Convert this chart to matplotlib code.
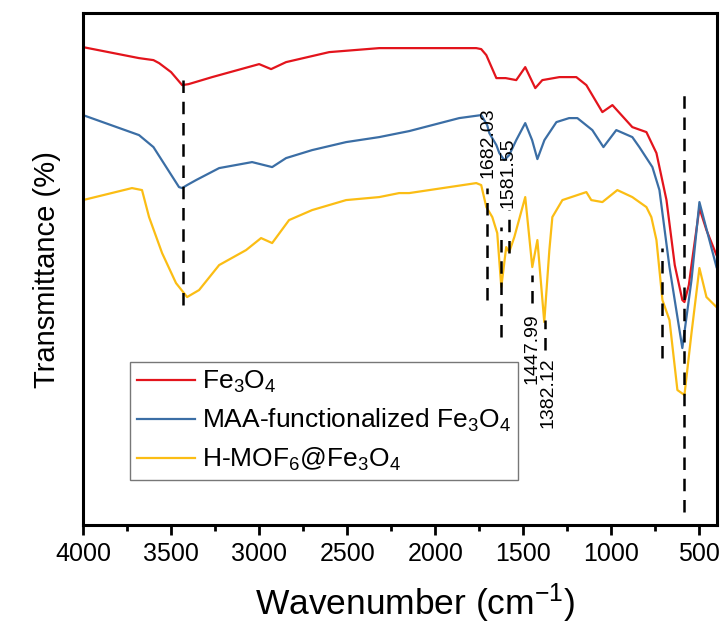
import numpy as np
import matplotlib
matplotlib.use("Agg")
import matplotlib.pyplot as plt
from matplotlib.ticker import MultipleLocator

plt.rcParams['font.family'] = ['Liberation Sans', 'DejaVu Sans']
plt.rcParams['mathtext.fontset'] = 'custom'
plt.rcParams['mathtext.rm'] = 'Liberation Sans'
plt.rcParams['mathtext.default'] = 'regular'

# FTIR spectra, wavenumber (cm-1) and transmittance (arbitrary, stacked)
fe3o4_w = [4000, 4000, 3682, 3600, 3568, 3500, 3437, 3400, 3267, 3000, 2932, 2847, 2602, 2318,
           2148, 1767, 1739, 1710, 1653, 1600, 1540, 1489, 1432, 1392, 1295, 1199, 1142,
           1051, 994, 881, 801, 744, 687, 640, 597, 585, 560, 545, 500, 460, 403]
fe3o4_t = [0, 478, 467, 465, 462, 453, 440, 441, 448, 461, 456, 463, 473, 477,
           477, 477, 476, 470, 447, 447, 445, 458, 437, 445, 448, 448, 440,
           413, 420, 398, 393, 372, 325, 260, 225, 223, 240, 260, 317, 295, 270]

maa_w = [4000, 4000, 3682, 3600, 3455, 3437, 3409, 3358, 3227, 3040, 2926, 2847, 2699, 2506,
         2318, 2205, 2148, 1864, 1739, 1705, 1693, 1653, 1636, 1608, 1580, 1540, 1489,
         1450, 1420, 1380, 1312, 1240, 1193, 1108, 1045, 972, 881, 841, 767, 727, 670,
         597, 545, 500, 403]
maa_t = [0, 410, 390, 378, 338, 337, 340, 345, 357, 363, 358, 367, 375, 383,
         388, 392, 394, 407, 410, 400, 392, 380, 372, 365, 370, 385, 402,
         385, 366, 385, 403, 407, 407, 395, 378, 395, 388, 378, 358, 335, 258,
         177, 245, 323, 258]

mof_w = [4000, 4000, 3722, 3665, 3625, 3551, 3472, 3409, 3341, 3227, 3074, 2989, 2926,
         2830, 2699, 2506, 2318, 2205, 2148, 1767, 1739, 1710, 1676, 1648, 1625, 1597,
         1580, 1551, 1489, 1449, 1420, 1381, 1352, 1335, 1278, 1142, 1114, 1051, 966,
         881, 801, 773, 744, 710, 670, 625, 585, 545, 500, 460, 403]
mof_t = [0, 325, 337, 335, 308, 272, 242, 228, 235, 260, 275, 287, 282,
         305, 315, 325, 328, 332, 332, 342, 340, 318, 308, 292, 238, 278,
         273, 288, 328, 258, 285, 203, 275, 308, 325, 333, 325, 323, 335,
         328, 318, 308, 285, 225, 205, 135, 130, 192, 257, 228, 218]

labels = ['Fe$_3$O$_4$', 'MAA-functionalized Fe$_3$O$_4$', 'H-MOF$_6$@Fe$_3$O$_4$']
colors = ['#e3141c', '#3b6ea5', '#fbbd14']

# dashed marker lines: position and vertical extent
mark_w = [3430, 1705, 1625, 1580, 1449, 1378, 710, 585]
mark_top = [450, 337, 298, 315, 250, 205, 277, 435]
mark_bot = [220, 225, 188, 272, 222, 175, 167, 13]

# peak labels
peak_text = ['1682.03', '1581.55', '1447.99', '1382.12']
peak_x = [1699, 1585, 1452, 1360]
peak_y = [347, 317, 212, 168]
peak_va = ['bottom', 'bottom', 'top', 'top']

fig = plt.figure(figsize=(7.25, 6.25), dpi=100)
ax = fig.add_axes([0.1145, 0.16, 0.8745, 0.819])

for w, t, lab, c in zip([fe3o4_w, maa_w, mof_w], [fe3o4_t, maa_t, mof_t], labels, colors):
    ax.plot(w, t, color=c, lw=1.6, label=lab)

for w, t0, t1 in zip(mark_w, mark_top, mark_bot):
    ax.plot([w, w], [t1, t0], color='black', lw=1.8, dashes=(5, 3.5))

for s, x, y, va in zip(peak_text, peak_x, peak_y, peak_va):
    ax.text(x, y, s, rotation=90, ha='center', va=va, fontsize=14)

ax.set_xlim(4000, 400)
ax.set_ylim(0, 512)
ax.xaxis.set_major_locator(MultipleLocator(500))
ax.xaxis.set_minor_locator(MultipleLocator(250))
ax.set_yticks([])
ax.tick_params(axis='x', which='major', direction='out', length=7, width=2, labelsize=18, pad=5)
ax.tick_params(axis='x', which='minor', direction='out', length=4, width=2)
for sp in ax.spines.values():
    sp.set_linewidth(2.2)

ax.set_xlabel('Wavenumber (cm$^{-1}$)', fontsize=25.5)
ax.xaxis.set_label_coords(0.524, -0.11)
ax.set_ylabel('Transmittance (%)', fontsize=21, labelpad=16)

leg = ax.legend(loc='upper left', bbox_to_anchor=(0.074, 0.318), borderaxespad=0,
                fontsize=19, frameon=True, fancybox=False, edgecolor='#555555',
                handlelength=2.2, handletextpad=0.3, labelspacing=0.45, borderpad=0.25)
leg.get_frame().set_linewidth(1.0)
for line in leg.get_lines():
    line.set_linewidth(1.6)

fig.savefig('out.png', dpi=100)
